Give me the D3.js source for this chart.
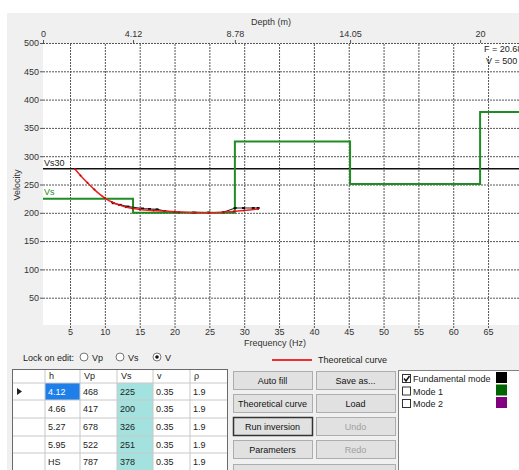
<!DOCTYPE html>
<html>
<head>
<meta charset="utf-8">
<script src="https://cdn.jsdelivr.net/npm/d3@7"></script>
<style>
  body { margin: 0; background: #fff; }
  svg { display: block; font-family: 'Liberation Sans', Arial, sans-serif; font-size: 9px; }
  .tick text { font-size: 9px; fill: #333; }
  .tick line { stroke: #555; }
  .domain { display: none; }
  .btn-text { text-anchor: middle; }
</style>
</head>
<body>
<svg width="519" height="470"></svg>
<script>
// layer model (table)
const hVals = [4.12, 4.66, 5.27, 5.95, 'HS'];
const vpVals = [468, 417, 678, 522, 787];
const vsVals = [225, 200, 326, 251, 378];
const nuVals = [0.35, 0.35, 0.35, 0.35, 0.35];
const rhoVals = [1.9, 1.9, 1.9, 1.9, 1.9];

// theoretical dispersion curve (red)
const theoFreq = [5.7, 6.5, 7.5, 8.5, 10, 11, 12, 13, 14, 15, 17, 20, 23, 25, 27, 28.5, 30, 32];
const theoVel = [277.5, 266, 253, 241, 226, 219, 214, 210, 207.5, 206, 204, 202, 200.5, 200, 201, 202.5, 204, 206.5];

// picked fundamental mode (black)
const expFreq = [11.2, 12.2, 13.3, 15.4, 16.4, 17.5, 18.6, 20.6, 22.7, 24.9, 27, 28.7, 29.9, 31.3, 32];
const expVel = [217, 214, 211, 207.6, 206.7, 206, 203, 201, 200.5, 200.5, 201, 208.5, 208.5, 208.5, 208.5];

const velTicks = [50, 100, 150, 200, 250, 300, 350, 400, 450, 500];
const freqTicks = [5, 10, 15, 20, 25, 30, 35, 40, 45, 50, 55, 60, 65];

const modes = ['Fundamental mode', 'Mode 1', 'Mode 2'];
const modeColors = ['#000000', '#006400', '#800080'];
const modeChecked = [true, false, false];

const svg = d3.select('svg');
const width = +svg.attr('width');
const height = +svg.attr('height');

const render = () => {
	const plot = {left: 43, top: 43, right: 519, bottom: 325};

	const xScale = d3.scaleLinear()
		.domain([1.12, 69.44])
		.range([plot.left, plot.right]);

	const depthScale = d3.scaleLinear()
		.domain([0, 21.78])
		.range([plot.left, plot.right]);

	const yScale = d3.scaleLinear()
		.domain([0, 500])
		.range([326, 43]);

	// panel background
	svg.append('rect')
		.attr('x', 7).attr('y', 13)
		.attr('width', width - 7).attr('height', height - 13)
		.attr('fill', '#f0f0f0');

	svg.append('rect')
		.attr('x', plot.left).attr('y', plot.top)
		.attr('width', plot.right - plot.left).attr('height', plot.bottom - plot.top)
		.attr('fill', '#fff');

	// grid
	const hGrid = svg.append('g')
		.attr('transform', `translate(${plot.left},0)`)
		.call(d3.axisLeft(yScale).tickValues(velTicks).tickSize(-(plot.right - plot.left)).tickFormat(''));
	hGrid.selectAll('.tick line')
		.attr('stroke', '#8a8a8a')
		.attr('stroke-dasharray', '2,1');

	const vGrid = svg.append('g')
		.attr('transform', `translate(0,${plot.bottom + 3})`)
		.call(d3.axisBottom(xScale).tickValues(freqTicks).tickSize(-(plot.bottom + 3 - plot.top)).tickFormat(''));
	vGrid.selectAll('.tick line')
		.attr('stroke', '#333')
		.attr('stroke-dasharray', '2,1');

	// axes
	svg.append('g')
		.attr('transform', `translate(${plot.left},0)`)
		.call(d3.axisLeft(yScale).tickValues(velTicks).tickSize(3).tickPadding(1));

	svg.append('g')
		.attr('transform', `translate(0,${plot.bottom})`)
		.call(d3.axisBottom(xScale).tickValues(freqTicks).tickSize(0).tickPadding(4));

	// depth axis from cumulative layer thickness
	const depths = [0];
	hVals.forEach(h => { if (h !== 'HS') depths.push(depths[depths.length - 1] + h); });
	svg.append('g')
		.attr('transform', `translate(0,${plot.top})`)
		.call(d3.axisTop(depthScale).tickValues(depths).tickSize(3).tickPadding(3)
			.tickFormat(d => String(+d.toFixed(2))));

	svg.append('text')
		.attr('x', 271).attr('y', 25)
		.attr('text-anchor', 'middle').attr('fill', '#333')
		.text('Depth (m)');

	svg.append('text')
		.attr('x', 275).attr('y', 346)
		.attr('text-anchor', 'middle').attr('fill', '#333')
		.text('Frequency (Hz)');

	svg.append('text')
		.attr('transform', 'translate(20,185) rotate(-90)')
		.attr('text-anchor', 'middle').attr('fill', '#333')
		.text('Velocity');

	const g = svg.append('g');

	// Vs30 line
	const vs30 = 30 / d3.sum(hVals.map((h, i) => (h === 'HS' ? 30 - depths[depths.length - 1] : h) / vsVals[i]));
	g.append('line')
		.attr('x1', plot.left).attr('x2', plot.right)
		.attr('y1', yScale(vs30)).attr('y2', yScale(vs30))
		.attr('stroke', '#111').attr('stroke-width', 1.5);
	g.append('text')
		.attr('x', 44).attr('y', yScale(vs30) - 3)
		.attr('fill', '#222')
		.text('Vs30');

	// Vs profile (step line on depth axis)
	const steps = [];
	vsVals.forEach((v, i) => {
		const top = depths[i];
		const bottom = i < depths.length - 1 ? depths[i + 1] : 21.78;
		steps.push([top, v], [bottom, v]);
	});
	g.append('path')
		.attr('d', d3.line().x(d => depthScale(d[0])).y(d => yScale(d[1]))(steps))
		.attr('fill', 'none')
		.attr('stroke', '#1f8c24')
		.attr('stroke-width', 2);
	g.append('text')
		.attr('x', 44).attr('y', yScale(vsVals[0]) - 4)
		.attr('fill', '#1f8c24')
		.text('Vs');

	// experimental curve
	const expData = expFreq.map((f, i) => ({f, v: expVel[i]}));
	g.append('path')
		.attr('d', d3.line().x(d => xScale(d.f)).y(d => yScale(d.v))(expData))
		.attr('fill', 'none')
		.attr('stroke', '#222')
		.attr('stroke-width', 1.2);
	g.selectAll('.exp-pt').data(expData).enter().append('rect')
		.attr('x', d => xScale(d.f) - 1.5).attr('y', d => yScale(d.v) - 1)
		.attr('width', 3).attr('height', 2)
		.attr('fill', '#111');

	// theoretical curve
	const theoData = theoFreq.map((f, i) => ({f, v: theoVel[i]}));
	g.append('path')
		.attr('d', d3.line().x(d => xScale(d.f)).y(d => yScale(d.v)).curve(d3.curveMonotoneX)(theoData))
		.attr('fill', 'none')
		.attr('stroke', '#e8201e')
		.attr('stroke-width', 1.5);
	g.selectAll('.theo-pt').data(theoData).enter().append('circle')
		.attr('cx', d => xScale(d.f)).attr('cy', d => yScale(d.v))
		.attr('r', 1)
		.attr('fill', '#c00');

	// cursor readout
	svg.append('rect')
		.attr('x', 483).attr('y', 44).attr('width', 40).attr('height', 11)
		.attr('fill', '#fff');
	svg.append('text').attr('x', 484).attr('y', 52).attr('fill', '#222').text('F = 20.68');
	svg.append('text').attr('x', 486).attr('y', 64).attr('fill', '#222').text('V = 500');

	// legend
	svg.append('line')
		.attr('x1', 272).attr('x2', 312).attr('y1', 360).attr('y2', 360)
		.attr('stroke', '#f03030').attr('stroke-width', 2);
	svg.append('text').attr('x', 318).attr('y', 363).attr('fill', '#222').text('Theoretical curve');

	// lock on edit
	svg.append('text').attr('x', 23).attr('y', 361).attr('fill', '#222').text('Lock on edit:');
	const radios = [{x: 84, label: 'Vp', on: false}, {x: 120, label: 'Vs', on: false}, {x: 157, label: 'V', on: true}];
	radios.forEach(r => {
		svg.append('circle').attr('cx', r.x).attr('cy', 357).attr('r', 4)
			.attr('fill', '#fff').attr('stroke', '#777');
		if (r.on) svg.append('circle').attr('cx', r.x).attr('cy', 357).attr('r', 1.8).attr('fill', '#111');
		svg.append('text').attr('x', r.x + 8).attr('y', 361).attr('fill', '#222').text(r.label);
	});

	// table
	const colX = [12, 45, 80, 117, 153, 190, 228];
	const rowY = [369, 383, 400, 418, 436, 453, 471];
	const headers = ['', 'h', 'Vp', 'Vs', 'v', '\u03c1'];
	const tbl = svg.append('g');
	tbl.append('rect')
		.attr('x', colX[0]).attr('y', rowY[0])
		.attr('width', colX[6] - colX[0]).attr('height', height - rowY[0] + 5)
		.attr('fill', '#fff');
	const rows = hVals.map((h, i) => [h, vpVals[i], vsVals[i], nuVals[i].toFixed(2), rhoVals[i]]);
	rows.forEach((row, r) => {
		const y0 = rowY[r + 1];
		const y1 = rowY[r + 2];
		tbl.append('rect')
			.attr('x', colX[3]).attr('y', y0).attr('width', colX[4] - colX[3]).attr('height', y1 - y0)
			.attr('fill', '#a4e2df');
		if (r === 0) {
			tbl.append('rect')
				.attr('x', colX[1]).attr('y', y0).attr('width', colX[2] - colX[1]).attr('height', y1 - y0)
				.attr('fill', '#1e7fe8');
			tbl.append('path')
				.attr('d', `M17,${y0 + 5}L22,${y0 + 8.5}L17,${y0 + 12}Z`)
				.attr('fill', '#222');
		}
		row.forEach((val, c) => {
			tbl.append('text')
				.attr('x', colX[c + 1] + 3).attr('y', (y0 + y1) / 2 + 3)
				.attr('fill', r === 0 && c === 0 ? '#fff' : '#222')
				.text(val);
		});
	});
	headers.forEach((hd, c) => {
		tbl.append('text').attr('x', colX[c] + 4).attr('y', 379).attr('fill', '#222').text(hd);
	});
	colX.slice(1, 6).forEach(x => {
		tbl.append('line').attr('x1', x).attr('x2', x).attr('y1', rowY[0]).attr('y2', height)
			.attr('stroke', '#c8c8c8');
	});
	rowY.slice(1, 6).forEach(y => {
		tbl.append('line').attr('x1', colX[0]).attr('x2', colX[6]).attr('y1', y).attr('y2', y)
			.attr('stroke', '#c8c8c8');
	});
	tbl.append('rect')
		.attr('x', colX[0] + 0.5).attr('y', rowY[0] + 0.5)
		.attr('width', colX[6] - colX[0] - 1).attr('height', height - rowY[0] + 5)
		.attr('fill', 'none').attr('stroke', '#6a6a6a');

	// buttons
	const buttons = [
		{x: 233, y: 371, w: 79, label: 'Auto fill'},
		{x: 316, y: 371, w: 79, label: 'Save as...'},
		{x: 233, y: 394, w: 79, label: 'Theoretical curve'},
		{x: 316, y: 394, w: 79, label: 'Load'},
		{x: 233, y: 417, w: 79, label: 'Run inversion', focus: true},
		{x: 316, y: 417, w: 79, label: 'Undo', disabled: true},
		{x: 233, y: 440, w: 79, label: 'Parameters'},
		{x: 316, y: 440, w: 79, label: 'Redo', disabled: true},
		{x: 233, y: 464, w: 162, label: 'Export theoretical curve'}
	];
	buttons.forEach(b => {
		svg.append('rect')
			.attr('x', b.x + 0.5).attr('y', b.y + 0.5).attr('width', b.w).attr('height', 18)
			.attr('fill', '#e1e1e1')
			.attr('stroke', b.focus ? '#333' : '#adadad')
			.attr('stroke-width', b.focus ? 1.5 : 1);
		svg.append('text')
			.attr('class', 'btn-text')
			.attr('x', b.x + b.w / 2).attr('y', b.y + 12.5)
			.attr('fill', b.disabled ? '#a0a0a0' : '#111')
			.text(b.label);
	});

	// modes panel
	svg.append('rect')
		.attr('x', 398.5).attr('y', 370.5).attr('width', 125).attr('height', 110)
		.attr('fill', '#fff').attr('stroke', '#828282');
	modes.forEach((m, i) => {
		const y = 374 + i * 12.5;
		svg.append('rect')
			.attr('x', 402.5).attr('y', y + 0.5).attr('width', 8).attr('height', 8)
			.attr('fill', '#fff').attr('stroke', '#333');
		if (modeChecked[i]) {
			svg.append('path')
				.attr('d', `M404,${y + 4.5}L406,${y + 7}L409.5,${y + 2}`)
				.attr('fill', 'none').attr('stroke', '#111').attr('stroke-width', 1.5);
		}
		svg.append('text').attr('x', 413).attr('y', y + 8).attr('fill', '#222').text(m);
		svg.append('rect')
			.attr('x', 496).attr('y', y - 2).attr('width', 11).attr('height', 11)
			.attr('fill', modeColors[i]);
	});

	// white margin left of the panel
	svg.append('rect').attr('x', 0).attr('y', 0).attr('width', 7).attr('height', height).attr('fill', '#fff');
};

render();
</script>
</body>
</html>
